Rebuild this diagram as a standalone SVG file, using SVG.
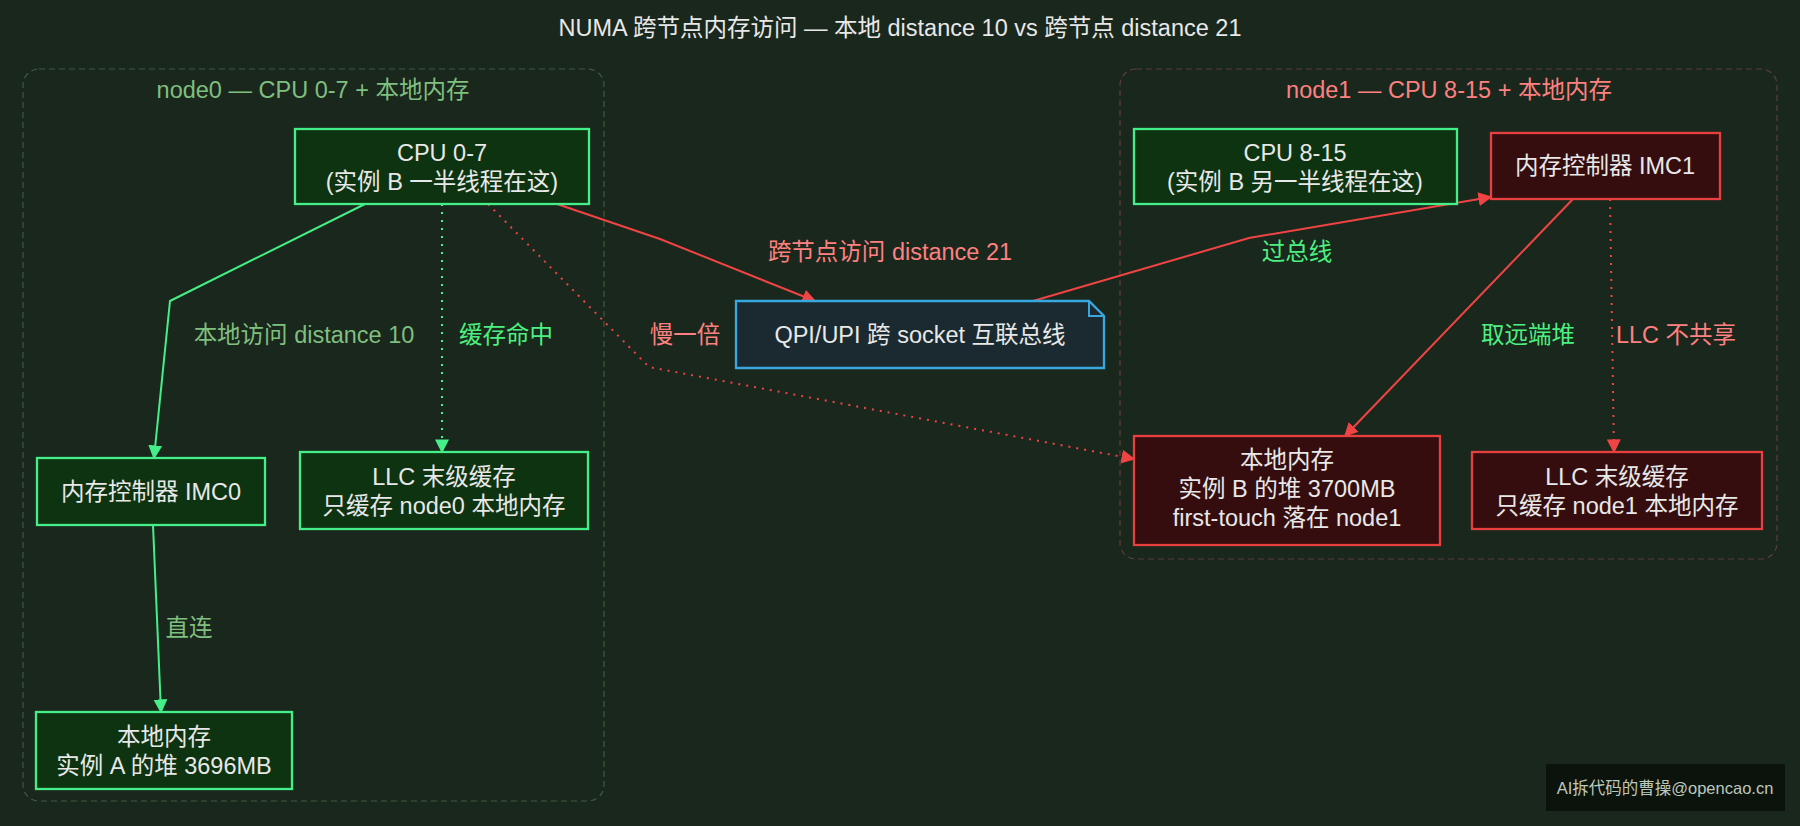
<svg xmlns="http://www.w3.org/2000/svg" width="1800" height="826" viewBox="0 0 1800 826">
<style>
text{font-family:"Liberation Sans","Noto Sans CJK SC",sans-serif;font-size:23.5px;text-anchor:middle}
.t{fill:#e8e8e8}
.g rect{fill:#0d3310;stroke:#44ee88;stroke-width:2.3}
.r rect{fill:#350d0f;stroke:#e84040;stroke-width:2.3}
.cl{fill:none;stroke:#3f5a3f;stroke-width:1.2;stroke-dasharray:6,4}
.cl2{fill:none;stroke:#5a3f38;stroke-width:1.2;stroke-dasharray:6,4}
.eg{fill:none;stroke:#44ee88;stroke-width:2}
.er{fill:none;stroke:#f04444;stroke-width:2}
.d{stroke-dasharray:2,6}
.lm{fill:#7fbf7f}.lg{fill:#4cf080}.ls{fill:#ff8080}
</style>
<defs>
<marker id="ag" viewBox="0 0 10 10" refX="9" refY="5" markerWidth="7" markerHeight="7" orient="auto"><path d="M0,0 L10,5 L0,10 z" fill="#44ee88"/></marker>
<marker id="ar" viewBox="0 0 10 10" refX="9" refY="5" markerWidth="7" markerHeight="7" orient="auto"><path d="M0,0 L10,5 L0,10 z" fill="#f04444"/></marker>
</defs>
<rect width="1800" height="826" fill="#1a271c"/>
<text class="t" x="900" y="36">NUMA 跨节点内存访问 — 本地 distance 10 vs 跨节点 distance 21</text>
<g id="cluster0"><rect class="cl" x="23" y="69" width="581" height="732" rx="16"/><text class="lm" x="313" y="98">node0 — CPU 0-7 + 本地内存</text></g>
<g id="cluster1"><rect class="cl2" x="1120" y="69" width="657" height="490" rx="16"/><text class="ls" x="1449" y="98">node1 — CPU 8-15 + 本地内存</text></g>
<g id="edges">
<path class="eg" d="M365,204 L170,301 L154,458" marker-end="url(#ag)"/>
<text class="lm" x="304" y="343">本地访问 distance 10</text>
<path class="eg d" d="M442,204 L442,452" marker-end="url(#ag)"/>
<text class="lg" x="506" y="343">缓存命中</text>
<path class="eg" d="M153,525 L161,712" marker-end="url(#ag)"/>
<text class="lm" x="189" y="636">直连</text>
<path class="er" d="M557,204 L660,239 L815,301" marker-end="url(#ar)"/>
<text class="ls" x="890" y="260">跨节点访问 distance 21</text>
<path class="er" d="M1033,301 L1249,238 L1491,197" marker-end="url(#ar)"/>
<text class="lg" x="1297" y="260">过总线</text>
<path class="er d" d="M488,204 L649,367 L1134,459" marker-end="url(#ar)"/>
<text class="ls" x="685" y="343">慢一倍</text>
<path class="er" d="M1573,199 L1345,436" marker-end="url(#ar)"/>
<text class="lg" x="1528" y="343">取远端堆</text>
<path class="er d" d="M1610,199 L1614,452" marker-end="url(#ar)"/>
<text class="ls" x="1676" y="343">LLC 不共享</text>
</g>
<g id="cpu0" class="g"><rect x="295" y="129" width="294" height="75"/><text class="t" x="442" y="161">CPU 0-7</text><text class="t" x="442" y="190">(实例 B 一半线程在这)</text></g>
<g id="imc0" class="g"><rect x="37" y="458" width="228" height="67"/><text class="t" x="151" y="500">内存控制器 IMC0</text></g>
<g id="llc0" class="g"><rect x="300" y="452" width="288" height="77"/><text class="t" x="444" y="485">LLC 末级缓存</text><text class="t" x="444" y="514">只缓存 node0 本地内存</text></g>
<g id="memA" class="g"><rect x="36" y="712" width="256" height="77"/><text class="t" x="164" y="745">本地内存</text><text class="t" x="164" y="774">实例 A 的堆 3696MB</text></g>
<g id="qpi"><path d="M736,301 H1089 L1104,316 V368 H736 Z" fill="#1a2a30" stroke="#3aa8e0" stroke-width="2.3"/><path d="M1089,301 V316 H1104" fill="none" stroke="#3aa8e0" stroke-width="2"/><text class="t" x="920" y="343">QPI/UPI 跨 socket 互联总线</text></g>
<g id="cpu1" class="g"><rect x="1134" y="129" width="323" height="75"/><text class="t" x="1295" y="161">CPU 8-15</text><text class="t" x="1295" y="190">(实例 B 另一半线程在这)</text></g>
<g id="imc1" class="r"><rect x="1491" y="133" width="229" height="66"/><text class="t" x="1605" y="174">内存控制器 IMC1</text></g>
<g id="memB" class="r"><rect x="1134" y="436" width="306" height="109"/><text class="t" x="1287" y="468">本地内存</text><text class="t" x="1287" y="497">实例 B 的堆 3700MB</text><text class="t" x="1287" y="526">first-touch 落在 node1</text></g>
<g id="llc1" class="r"><rect x="1472" y="452" width="290" height="77"/><text class="t" x="1617" y="485">LLC 末级缓存</text><text class="t" x="1617" y="514">只缓存 node1 本地内存</text></g>
<g id="wm"><rect x="1546" y="764" width="239" height="47" fill="#0c130d"/><text x="1665" y="794" style="font-size:16.5px;fill:#bcc8bc">AI拆代码的曹操@opencao.cn</text></g>
</svg>
